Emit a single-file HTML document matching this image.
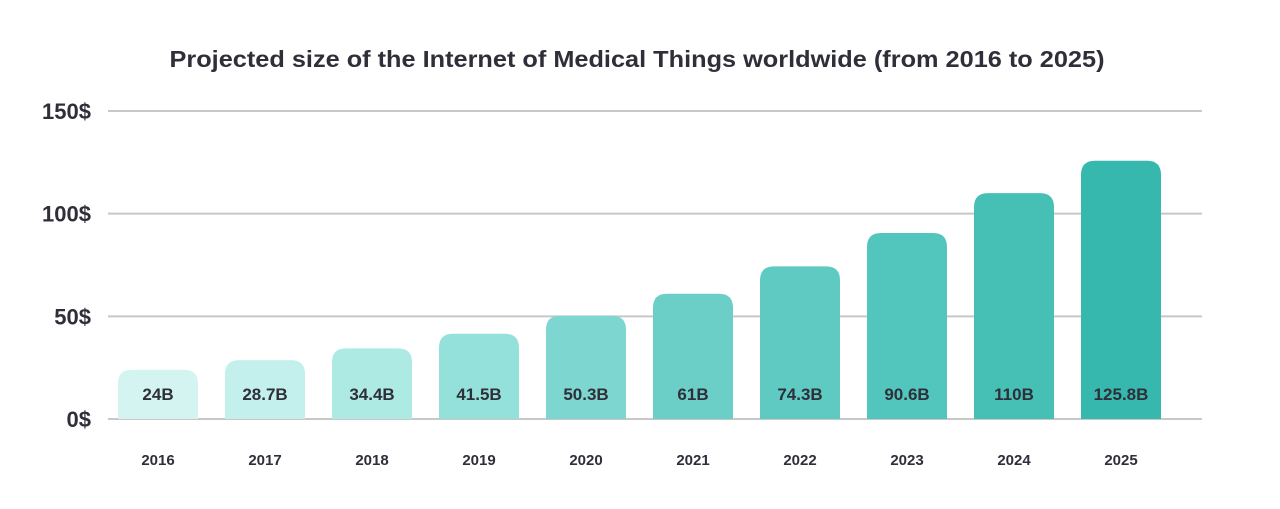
<!DOCTYPE html>
<html><head><meta charset="utf-8">
<style>
html,body{margin:0;padding:0;background:#fff;}
svg{display:block;font-family:"Liberation Sans",sans-serif;}
</style></head>
<body>
<svg id="chart" width="1280" height="509" viewBox="0 0 1280 509">
<text x="637" y="67" text-anchor="middle" font-size="23" font-weight="bold" fill="#2f2f3a" textLength="935" lengthAdjust="spacingAndGlyphs">Projected size of the Internet of Medical Things worldwide (from 2016 to 2025)</text>
<g id="grid"></g>
<g id="bars"></g>
</svg>
<script>
const categories = ["2016","2017","2018","2019","2020","2021","2022","2023","2024","2025"];
const values = [24, 28.7, 34.4, 41.5, 50.3, 61, 74.3, 90.6, 110, 125.8];
const valueLabels = ["24B","28.7B","34.4B","41.5B","50.3B","61B","74.3B","90.6B","110B","125.8B"];
const yTicks = [0, 50, 100, 150];
const yTickLabels = ["0$","50$","100$","150$"];
const colors = ["#d3f4f1","#c3f0ec","#aeeae4","#93e1da","#7dd6cf","#6bcfc7","#5ecac1","#52c6bc","#46bfb5","#37b8ae"];

const NS = "http://www.w3.org/2000/svg";
const y0 = 419, y150 = 111, xL = 108, xR = 1202;
function yScale(v){ return y0 - (v/150)*(y0-y150); }
function xScale(i){ return 158 + i*107; }
const bw = 80, r = 14;

const grid = document.getElementById("grid");
yTicks.forEach((t,i)=>{
  const y = yScale(t);
  const ln = document.createElementNS(NS,"line");
  ln.setAttribute("x1",xL); ln.setAttribute("x2",xR);
  ln.setAttribute("y1",y); ln.setAttribute("y2",y);
  ln.setAttribute("stroke","#c8c8c8"); ln.setAttribute("stroke-width","2");
  
  
  grid.appendChild(ln);
  const tx = document.createElementNS(NS,"text");
  tx.setAttribute("x",91); tx.setAttribute("y",y+8);
  tx.setAttribute("text-anchor","end"); tx.setAttribute("font-size","22");
  tx.setAttribute("font-weight","bold"); tx.setAttribute("fill","#2f2f3a");
  tx.textContent = yTickLabels[i];
  
  
  grid.appendChild(tx);
});

const bars = document.getElementById("bars");
categories.forEach((c,i)=>{
  const cx = xScale(i), top = yScale(values[i]), x = cx - bw/2;
  const h = y0 - top, rr = Math.min(r, h);
  const p = document.createElementNS(NS,"path");
  p.setAttribute("d",`M${x},${y0} L${x},${top+rr} Q${x},${top} ${x+rr},${top} L${x+bw-rr},${top} Q${x+bw},${top} ${x+bw},${top+rr} L${x+bw},${y0} Z`);
  p.setAttribute("fill",colors[i]);
  
  
  bars.appendChild(p);
  const vl = document.createElementNS(NS,"text");
  vl.setAttribute("x",cx); vl.setAttribute("y",400);
  vl.setAttribute("text-anchor","middle"); vl.setAttribute("font-size","17");
  vl.setAttribute("font-weight","bold"); vl.setAttribute("fill","#2f2f3a");
  vl.textContent = valueLabels[i];
  
  
  bars.appendChild(vl);
  const xl = document.createElementNS(NS,"text");
  xl.setAttribute("x",cx); xl.setAttribute("y",465);
  xl.setAttribute("text-anchor","middle"); xl.setAttribute("font-size","15");
  xl.setAttribute("font-weight","bold"); xl.setAttribute("fill","#2f2f3a");
  xl.textContent = c;
  
  
  bars.appendChild(xl);
});
</script>
</body></html>
